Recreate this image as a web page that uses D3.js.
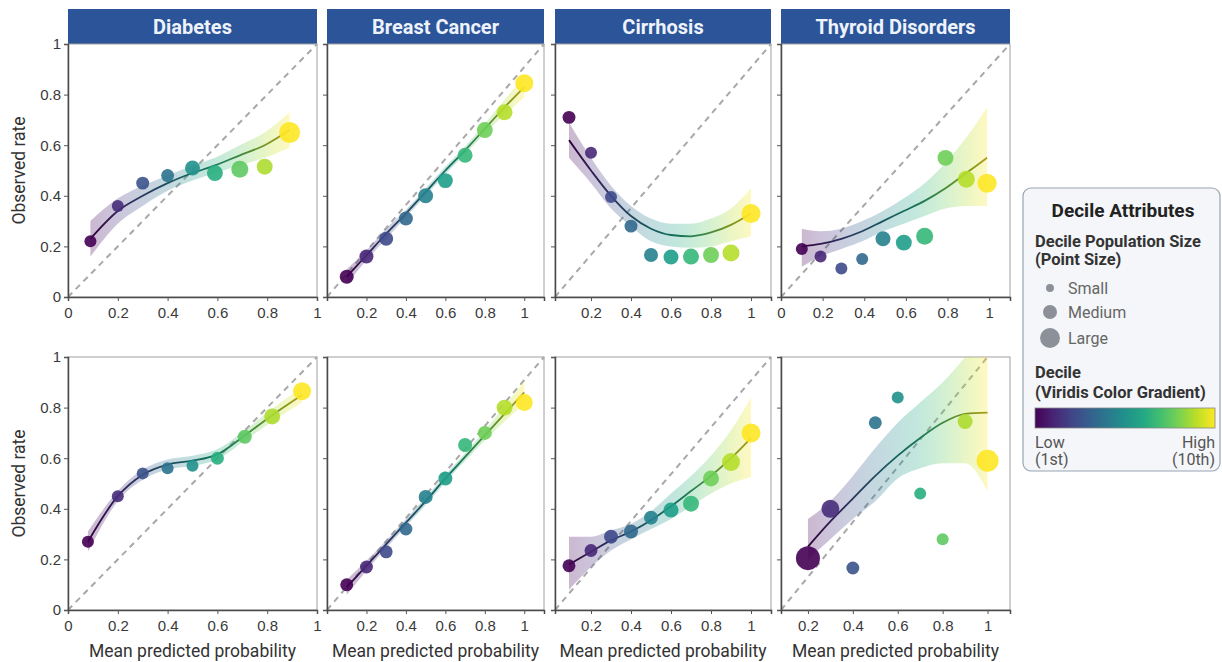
<!DOCTYPE html>
<html>
<head>
<meta charset="utf-8">
<script src="https://cdn.jsdelivr.net/npm/d3@7/dist/d3.min.js"></script>
<style>
  body { margin: 0; background: #fff; }
  svg { font-family: Roboto, "Noto Sans", sans-serif; }
  .tick text { fill: #3a3a3a; font-size: 15px; }
</style>
</head>
<body>
<svg id="chart" width="1222" height="662"></svg>
<script>
// Facet titles and shared ticks
const diseases = ['Diabetes', 'Breast Cancer', 'Cirrhosis', 'Thyroid Disorders'];
const yTicks = [0, 0.2, 0.4, 0.6, 0.8, 1];
const fullTicks = [0, 0.2, 0.4, 0.6, 0.8, 1];
const partTicks = [0.2, 0.4, 0.6, 0.8, 1];

// x domains per panel (row-major: top row then bottom row)
const xDomains = [[0, 1], [0, 1.1], [0.02, 1.1], [0, 1.1], [0, 1], [0, 1.1], [0.02, 1.1], [0.08, 1.1]];
const xTickSets = [fullTicks, partTicks, partTicks, fullTicks, fullTicks, partTicks, partTicks, partTicks];
// right end of the dashed reference line
const diagEnds = [1, 1.1, 1.1, 1.1, 1, 1.1, 1.1, 1];

// --- Top row ---
const diabTopX    = [0.09, 0.2, 0.3, 0.4, 0.5, 0.59, 0.69, 0.79, 0.89];
const diabTopY    = [0.22, 0.36, 0.45, 0.48, 0.51, 0.49, 0.505, 0.515, 0.65];
const diabTopSize = [25, 25, 29, 29, 39, 44, 50, 44, 77];
const diabTopFit  = [0.23, 0.34, 0.40, 0.45, 0.49, 0.52, 0.56, 0.60, 0.66];
const diabTopLo   = [0.16, 0.29, 0.36, 0.42, 0.46, 0.49, 0.52, 0.55, 0.59];
const diabTopHi   = [0.30, 0.39, 0.44, 0.48, 0.52, 0.55, 0.60, 0.65, 0.73];

const breastTopX    = [0.1, 0.2, 0.3, 0.4, 0.5, 0.6, 0.7, 0.8, 0.9, 1.0];
const breastTopY    = [0.08, 0.16, 0.23, 0.31, 0.40, 0.46, 0.56, 0.66, 0.73, 0.845];
const breastTopSize = [34, 34, 34, 34, 39, 39, 39, 44, 44, 56];
const breastTopFit  = [0.08, 0.165, 0.25, 0.33, 0.415, 0.50, 0.58, 0.665, 0.75, 0.83];
const breastTopLo   = [0.05, 0.145, 0.23, 0.315, 0.40, 0.485, 0.565, 0.645, 0.72, 0.79];
const breastTopHi   = [0.11, 0.185, 0.27, 0.345, 0.43, 0.515, 0.595, 0.685, 0.78, 0.87];

const cirrTopX    = [0.09, 0.2, 0.3, 0.4, 0.5, 0.6, 0.7, 0.8, 0.9, 1.0];
const cirrTopY    = [0.71, 0.57, 0.395, 0.28, 0.166, 0.158, 0.16, 0.166, 0.174, 0.33];
const cirrTopSize = [29, 25, 25, 29, 34, 39, 44, 44, 50, 63];
const cirrTopFit  = [0.62, 0.50, 0.40, 0.32, 0.27, 0.245, 0.24, 0.255, 0.285, 0.33];
const cirrTopLo   = [0.55, 0.45, 0.35, 0.28, 0.22, 0.20, 0.195, 0.20, 0.22, 0.24];
const cirrTopHi   = [0.69, 0.55, 0.44, 0.36, 0.31, 0.29, 0.29, 0.31, 0.35, 0.43];

const thyTopX    = [0.1, 0.19, 0.29, 0.39, 0.49, 0.59, 0.69, 0.79, 0.89, 0.99];
const thyTopY    = [0.19, 0.16, 0.113, 0.15, 0.23, 0.215, 0.24, 0.55, 0.465, 0.45];
const thyTopSize = [25, 25, 25, 25, 39, 44, 50, 44, 50, 63];
const thyTopFit  = [0.20, 0.21, 0.23, 0.26, 0.30, 0.34, 0.38, 0.43, 0.49, 0.55];
const thyTopLo   = [0.12, 0.16, 0.19, 0.22, 0.26, 0.29, 0.32, 0.35, 0.36, 0.36];
const thyTopHi   = [0.27, 0.26, 0.27, 0.30, 0.34, 0.39, 0.45, 0.53, 0.63, 0.75];

// --- Bottom row ---
const diabBotX    = [0.08, 0.2, 0.3, 0.4, 0.5, 0.6, 0.71, 0.82, 0.94];
const diabBotY    = [0.27, 0.45, 0.54, 0.56, 0.57, 0.60, 0.685, 0.765, 0.865];
const diabBotSize = [25, 25, 25, 25, 25, 29, 34, 44, 56];
const diabBotFit  = [0.27, 0.45, 0.535, 0.575, 0.59, 0.615, 0.69, 0.77, 0.85];
const diabBotLo   = [0.23, 0.43, 0.515, 0.555, 0.57, 0.595, 0.67, 0.745, 0.82];
const diabBotHi   = [0.31, 0.47, 0.555, 0.595, 0.61, 0.635, 0.71, 0.795, 0.88];

const breastBotX    = [0.1, 0.2, 0.3, 0.4, 0.5, 0.6, 0.7, 0.8, 0.9, 1.0];
const breastBotY    = [0.10, 0.17, 0.23, 0.32, 0.447, 0.52, 0.652, 0.70, 0.80, 0.82];
const breastBotSize = [29, 29, 29, 29, 34, 34, 34, 34, 44, 50];
const breastBotFit  = [0.09, 0.175, 0.26, 0.345, 0.43, 0.52, 0.605, 0.69, 0.775, 0.86];
const breastBotLo   = [0.06, 0.155, 0.245, 0.33, 0.415, 0.505, 0.59, 0.67, 0.745, 0.815];
const breastBotHi   = [0.12, 0.195, 0.275, 0.36, 0.445, 0.535, 0.62, 0.71, 0.805, 0.905];

const cirrBotX    = [0.09, 0.2, 0.3, 0.4, 0.5, 0.6, 0.7, 0.8, 0.9, 1.0];
const cirrBotY    = [0.175, 0.235, 0.29, 0.31, 0.365, 0.395, 0.42, 0.52, 0.585, 0.70];
const cirrBotSize = [29, 29, 34, 34, 34, 39, 44, 44, 56, 63];
const cirrBotFit  = [0.18, 0.23, 0.275, 0.31, 0.355, 0.41, 0.47, 0.53, 0.60, 0.68];
const cirrBotLo   = [0.08, 0.17, 0.235, 0.28, 0.32, 0.36, 0.41, 0.46, 0.50, 0.525];
const cirrBotHi   = [0.29, 0.29, 0.315, 0.34, 0.39, 0.46, 0.53, 0.61, 0.71, 0.84];

const thyBotX    = [0.2, 0.3, 0.4, 0.5, 0.6, 0.7, 0.8, 0.9, 1.0];
const thyBotY    = [0.205, 0.40, 0.166, 0.74, 0.84, 0.46, 0.28, 0.745, 0.59];
const thyBotSize = [100, 56, 29, 29, 25, 25, 25, 39, 84];
const thyBotFit  = [0.25, 0.35, 0.44, 0.53, 0.61, 0.68, 0.74, 0.775, 0.78];
const thyBotLo   = [0.20, 0.28, 0.36, 0.43, 0.52, 0.56, 0.58, 0.58, 0.47];
const thyBotHi   = [0.36, 0.43, 0.53, 0.64, 0.74, 0.82, 0.90, 1.00, 1.12];

// Legend entries
const sizeLegendLabels = ['Small', 'Medium', 'Large'];
const sizeLegendValues = [11, 34, 69];
const gradientLabels = [['Low', '(1st)'], ['High', '(10th)']];

// Build the panel table from the arrays above
const panelX = [diabTopX, breastTopX, cirrTopX, thyTopX, diabBotX, breastBotX, cirrBotX, thyBotX];
const panelY = [diabTopY, breastTopY, cirrTopY, thyTopY, diabBotY, breastBotY, cirrBotY, thyBotY];
const panelSize = [diabTopSize, breastTopSize, cirrTopSize, thyTopSize, diabBotSize, breastBotSize, cirrBotSize, thyBotSize];
const panelFit = [diabTopFit, breastTopFit, cirrTopFit, thyTopFit, diabBotFit, breastBotFit, cirrBotFit, thyBotFit];
const panelLo = [diabTopLo, breastTopLo, cirrTopLo, thyTopLo, diabBotLo, breastBotLo, cirrBotLo, thyBotLo];
const panelHi = [diabTopHi, breastTopHi, cirrTopHi, thyTopHi, diabBotHi, breastBotHi, cirrBotHi, thyBotHi];

const panels = panelX.map((xs, i) => ({
  row: Math.floor(i / 4),
  col: i % 4,
  domain: xDomains[i],
  ticks: xTickSets[i],
  diagEnd: diagEnds[i],
  points: xs.map((x, j) => ({ x, y: panelY[i][j], size: panelSize[i][j], t: j / (xs.length - 1) })),
  fit: xs.map((x, j) => ({ x, y: panelFit[i][j], lo: panelLo[i][j], hi: panelHi[i][j] })),
}));

// Layout
const colX = [[68, 317], [327, 544], [555, 771], [781, 1010]];
const rowY = [[44, 297], [357, 610]];

const svg = d3.select('#chart');
const defs = svg.append('defs');
const radius = d3.scaleSqrt().domain([0, 100]).range([0, 12]);
const fmt = d3.format('~g');
const gradStops = d3.range(0, 1.0001, 0.1);

panels.forEach((p, i) => {
  const [x0, x1] = colX[p.col];
  const [y0, y1] = rowY[p.row];
  const x = d3.scaleLinear().domain(p.domain).range([x0, x1]);
  const y = d3.scaleLinear().domain([0, 1]).range([y1, y0]);
  const g = svg.append('g');

  // Clip for the band
  defs.append('clipPath').attr('id', `clip${i}`)
    .append('rect').attr('x', x0).attr('y', y0).attr('width', x1 - x0).attr('height', y1 - y0);

  // Viridis gradients along the fitted range
  const xa = x(p.fit[0].x), xb = x(p.fit[p.fit.length - 1].x);
  const band = defs.append('linearGradient').attr('id', `band${i}`)
    .attr('gradientUnits', 'userSpaceOnUse').attr('x1', xa).attr('x2', xb).attr('y1', 0).attr('y2', 0);
  band.selectAll('stop').data(gradStops).join('stop')
    .attr('offset', d => d).attr('stop-color', d => d3.interpolateViridis(d));
  const line = defs.append('linearGradient').attr('id', `line${i}`)
    .attr('gradientUnits', 'userSpaceOnUse').attr('x1', xa).attr('x2', xb).attr('y1', 0).attr('y2', 0);
  line.selectAll('stop').data(gradStops).join('stop')
    .attr('offset', d => d).attr('stop-color', d => d3.color(d3.interpolateViridis(d)).darker(1.1));

  // Facet header on top row
  if (p.row === 0) {
    g.append('rect').attr('x', x0).attr('y', 9).attr('width', x1 - x0).attr('height', y0 - 9)
      .attr('fill', '#2b5499');
    g.append('text').attr('x', (x0 + x1) / 2).attr('y', 34)
      .attr('text-anchor', 'middle').attr('fill', '#eef3fa')
      .style('font-size', '20px').style('font-weight', 700)
      .text(diseases[p.col]);
  }

  // Panel border
  g.append('rect').attr('x', x0).attr('y', y0).attr('width', x1 - x0).attr('height', y1 - y0)
    .attr('fill', 'none').attr('stroke', '#a0a0a0').attr('stroke-width', 1);

  // Dashed reference line
  g.append('line')
    .attr('x1', x(p.domain[0])).attr('y1', y(0))
    .attr('x2', x(p.diagEnd)).attr('y2', y(1))
    .attr('stroke', '#a8a8a8').attr('stroke-width', 2).attr('stroke-dasharray', '6,5');

  // Confidence band
  g.append('path').datum(p.fit)
    .attr('clip-path', `url(#clip${i})`)
    .attr('fill', `url(#band${i})`).attr('fill-opacity', 0.28)
    .attr('d', d3.area().curve(d3.curveMonotoneX).x(d => x(d.x)).y0(d => y(d.lo)).y1(d => y(d.hi)));

  // Fitted curve
  g.append('path').datum(p.fit)
    .attr('fill', 'none').attr('stroke', `url(#line${i})`).attr('stroke-width', 1.8)
    .attr('d', d3.line().curve(d3.curveMonotoneX).x(d => x(d.x)).y(d => y(d.y)));

  // Decile points
  g.selectAll('circle').data(p.points).join('circle')
    .attr('cx', d => x(d.x)).attr('cy', d => y(d.y))
    .attr('r', d => radius(d.size))
    .attr('fill', d => d3.interpolateViridis(d.t)).attr('fill-opacity', 0.9);

  // Axes
  const xAxis = g.append('g').attr('transform', `translate(0,${y1})`)
    .call(d3.axisBottom(x).tickValues(p.ticks).tickSize(4).tickPadding(6).tickFormat(fmt));
  const yAxis = g.append('g').attr('transform', `translate(${x0},0)`)
    .call(d3.axisLeft(y).tickValues(yTicks).tickSize(4).tickPadding(3)
      .tickFormat(p.col === 0 ? fmt : ''));
  [xAxis, yAxis].forEach(a => {
    a.select('.domain').attr('stroke', '#4a4a4a').attr('stroke-width', 1.5);
    a.selectAll('.tick line').attr('stroke', '#555');
  });

  if (p.col === 0) {
    svg.append('text')
      .attr('transform', `translate(25,${(y0 + y1) / 2}) rotate(-90)`)
      .attr('text-anchor', 'middle').attr('fill', '#333').style('font-size', '17.5px')
      .text('Observed rate');
  }
  if (p.row === 1) {
    svg.append('text').attr('x', (x0 + x1) / 2).attr('y', 657)
      .attr('text-anchor', 'middle').attr('fill', '#333').style('font-size', '17.5px')
      .text('Mean predicted probability');
  }
});

// Legend
const legend = svg.append('g');
legend.append('rect').attr('x', 1023).attr('y', 188).attr('width', 197).attr('height', 283)
  .attr('rx', 8).attr('fill', '#f4f6f9').attr('stroke', '#9aa4b4').attr('stroke-width', 1.2);
legend.append('text').attr('x', 1123).attr('y', 217).attr('text-anchor', 'middle')
  .attr('fill', '#222').style('font-size', '19px').style('font-weight', 700).text('Decile Attributes');

const subTitle = (txt, yy) => legend.append('text').attr('x', 1035).attr('y', yy).attr('fill', '#333')
  .style('font-size', '16.5px').style('font-weight', 700).text(txt);
subTitle('Decile Population Size', 247);
subTitle('(Point Size)', 265);

const sizeRows = legend.selectAll('.size-row').data(sizeLegendLabels).join('g')
  .attr('transform', (d, i) => `translate(1050,${[288, 312, 338][i]})`);
sizeRows.append('circle').attr('r', (d, i) => radius(sizeLegendValues[i])).attr('fill', '#8c9099');
sizeRows.append('text').attr('x', 18).attr('y', 6).attr('fill', '#666')
  .style('font-size', '16px').text(d => d);

subTitle('Decile', 378);
subTitle('(Viridis Color Gradient)', 398);

const legGrad = defs.append('linearGradient').attr('id', 'legendGrad');
legGrad.selectAll('stop').data(gradStops).join('stop')
  .attr('offset', d => d).attr('stop-color', d => d3.interpolateViridis(d));
legend.append('rect').attr('x', 1035).attr('y', 408).attr('width', 180).attr('height', 20)
  .attr('fill', 'url(#legendGrad)').attr('stroke', '#888').attr('stroke-width', 0.8);

gradientLabels.forEach((lines, i) => {
  lines.forEach((s, k) => {
    legend.append('text').attr('x', i === 0 ? 1035 : 1215).attr('y', 448 + k * 17)
      .attr('text-anchor', i === 0 ? 'start' : 'end').attr('fill', '#555')
      .style('font-size', '16px').text(s);
  });
});
</script>
</body>
</html>
